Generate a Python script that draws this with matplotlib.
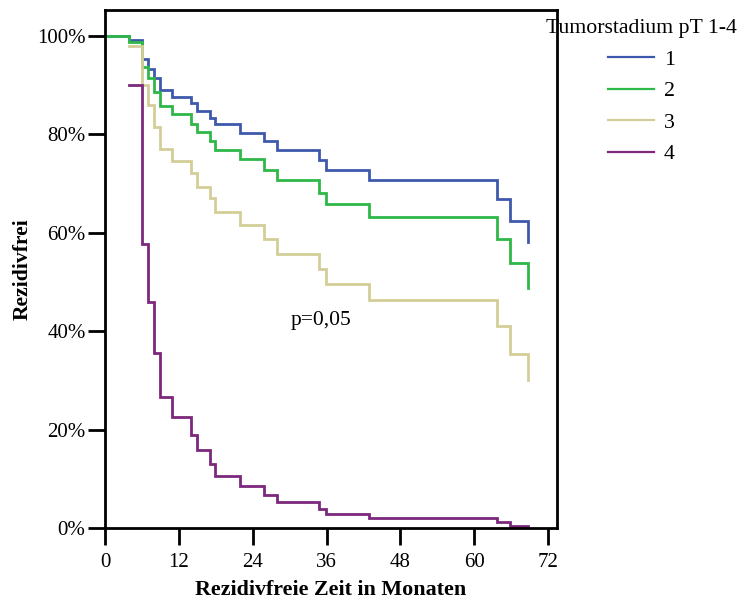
import matplotlib
matplotlib.use("Agg")
import matplotlib.pyplot as plt
from matplotlib.ticker import FuncFormatter

plt.rcParams['font.family'] = ['Liberation Serif', 'DejaVu Serif']

# Event times (months) shared by the groups
times = [0, 3.95, 6.05, 6.95, 8.0, 8.95, 10.9, 14.0, 14.9, 17.0, 17.9,
         21.95, 25.9, 27.9, 34.8, 35.9, 42.85, 63.7, 65.8, 68.8]

# Recurrence-free survival (%) per tumour stage
surv_pt1 = [100, 99.1, 95.3, 93.4, 91.4, 88.95, 87.7, 86.3, 84.75, 83.4, 82.05,
            80.35, 78.6, 76.8, 74.8, 72.8, 70.7, 66.9, 62.5, 58.1]
surv_pt2 = [100, 98.8, 93.8, 91.4, 88.7, 85.7, 84.1, 82.2, 80.5, 78.7, 76.9,
            75.0, 72.8, 70.7, 68.2, 65.85, 63.3, 58.8, 53.8, 48.8]
surv_pt3 = [None, 98.0, 90.0, 85.9, 81.6, 77.0, 74.7, 72.1, 69.4, 67.0, 64.2,
            61.65, 58.8, 55.7, 52.6, 49.6, 46.3, 41.1, 35.4, 30.1]
surv_pt4 = [None, 90.0, 57.8, 45.9, 35.6, 26.6, 22.6, 19.0, 15.85, 13.0, 10.6,
            8.6, 6.7, 5.2, 3.8, 2.85, 1.97, 1.2, 0.4, 0.4]

group_labels = ['1', '2', '3', '4']
group_colors = ['#3E58AC', '#2EB848', '#D3CE97', '#7C287D']

x_ticks = [0, 12, 24, 36, 48, 60, 72]
y_ticks = [0, 20, 40, 60, 80, 100]

fig = plt.figure(figsize=(7.42, 6.04), dpi=100)
ax = fig.add_axes([105 / 742, 76 / 604, 452 / 742, 518 / 604])

for surv, lab, col in zip([surv_pt1, surv_pt2, surv_pt3, surv_pt4],
                          group_labels, group_colors):
    pts = [(t, s) for t, s in zip(times, surv) if s is not None]
    ts = [p[0] for p in pts]
    ss = [p[1] for p in pts]
    ax.step(ts, ss, where='post', color=col, lw=2.0, label=lab,
            solid_joinstyle='miter')

ax.set_xlim(0, 73.46)
ax.set_ylim(0, 105.3)
ax.set_xticks(x_ticks)
ax.set_yticks(y_ticks)
ax.yaxis.set_major_formatter(FuncFormatter(lambda v, p: f"{int(v)}%"))

for sp in ax.spines.values():
    sp.set_linewidth(2.0)
    sp.set_color('black')

ax.tick_params(axis='both', direction='out', length=12, width=2.0,
               labelsize=15, colors='black')
ax.tick_params(axis='x', pad=6)
ax.tick_params(axis='y', pad=2)

ax.set_xlabel('Rezidivfreie Zeit in Monaten', fontsize=15.8,
              fontweight='bold', labelpad=6)
ax.set_ylabel('Rezidivfrei', fontsize=15.6, fontweight='bold', labelpad=3)

ax.text(30.1, 42.1, 'p=0,05', fontsize=15.5, va='center', ha='left')

leg = ax.legend(title='Tumorstadium pT 1-4', loc='upper left',
                bbox_to_anchor=(546 / 742, 1.0 - 19 / 604),
                bbox_transform=fig.transFigure, frameon=False,
                fontsize=15.7, title_fontsize=15.7,
                handlelength=2.1, handletextpad=0.45, labelspacing=0.52,
                borderpad=0.0, borderaxespad=0.0)
for h in leg.get_lines():
    h.set_linewidth(1.6)

fig.savefig('out.png', dpi=100)
